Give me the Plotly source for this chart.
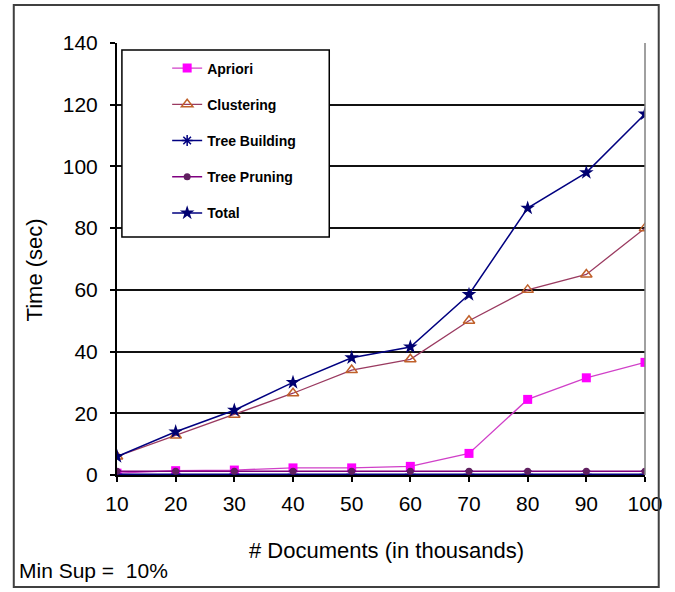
import plotly.graph_objects as go

# Number of documents (thousands)
docs = [10, 20, 30, 40, 50, 60, 70, 80, 90, 100]

# Running time per phase (seconds)
apriori = [0.6, 1.4, 1.6, 2.3, 2.3, 2.8, 7, 24.5, 31.5, 36.5]
clustering = [6, 12.8, 19.5, 26.5, 34, 37.5, 50, 60, 65, 80]
tree_building = [0.2, 0.2, 0.2, 0.2, 0.2, 0.2, 0.2, 0.2, 0.2, 0.2]
tree_pruning = [1.2, 1.2, 1.2, 1.2, 1.2, 1.2, 1.2, 1.2, 1.2, 1.2]
total = [6, 14, 21, 30, 38, 41.5, 58.5, 86.5, 98, 117]

y_ticks = [0, 20, 40, 60, 80, 100, 120, 140]

FONT = "Liberation Sans, Arial, sans-serif"

series = [
    ("Apriori", apriori, dict(color="#D040C8", width=1.3),
     dict(symbol="square", size=9, color="#FF00FF")),
    ("Clustering", clustering, dict(color="#9A3A60", width=1.3),
     dict(symbol="triangle-up-open", size=10, color="#C0602A", line=dict(width=1.5))),
    ("Tree Building", tree_building, dict(color="#000080", width=1.6),
     dict(symbol="asterisk-open", size=9, color="#000080", line=dict(width=1.5))),
    ("Tree Pruning", tree_pruning, dict(color="#800080", width=1.6),
     dict(symbol="circle", size=7, color="#602060")),
    ("Total", total, dict(color="#000080", width=1.5),
     dict(symbol="star", size=11, color="#000070")),
]

fig = go.Figure()
for i, (name, vals, line, marker) in enumerate(series):
    fig.add_trace(go.Scatter(
        x=docs, y=vals, name=name, mode="lines+markers",
        line=line, marker=marker, legendgroup=f"g{i}",
    ))

fig.update_layout(
    width=675, height=592,
    margin=dict(l=117, r=21, t=43, b=117),
    paper_bgcolor="white", plot_bgcolor="white",
    font=dict(family=FONT, size=22, color="black"),
    showlegend=True,
    legend=dict(
        x=0.095, y=0.978, xanchor="left", yanchor="top",
        bgcolor="rgba(0,0,0,0)", borderwidth=0,
        font=dict(family=FONT, size=14, color="black", weight="bold"),
        tracegroupgap=15, itemwidth=30,
    ),
    xaxis=dict(
        range=[10, 100], tickvals=docs, ticktext=[str(d) for d in docs],
        showgrid=False, zeroline=False,
        showline=True, linecolor="black", linewidth=2,
        ticks="outside", ticklen=5, tickwidth=1.5, tickcolor="black",
        ticklabelstandoff=4,
        tickfont=dict(family=FONT, size=21),
    ),
    yaxis=dict(
        range=[0, 140], tickvals=y_ticks, ticktext=[str(v) for v in y_ticks],
        showgrid=True, gridcolor="#111111", gridwidth=2,
        zeroline=False,
        showline=True, linecolor="black", linewidth=2,
        ticks="outside", ticklen=5, tickwidth=1.5, tickcolor="black",
        ticklabelstandoff=8,
        tickfont=dict(family=FONT, size=21),
    ),
    shapes=[
        # plot-area right edge
        dict(type="line", xref="paper", yref="paper", x0=1, x1=1, y0=0, y1=1,
             line=dict(color="#808080", width=1.5)),
        # legend box
        dict(type="rect", xref="paper", yref="paper", layer="above",
             x0=0.0093, x1=0.402, y0=0.551, y1=0.984,
             fillcolor="white", line=dict(color="black", width=1.5)),
        # chart-area border
        dict(type="rect", xref="paper", yref="paper",
             x0=-0.1955, x1=1.026, y0=-0.259, y1=1.088,
             line=dict(color="#404040", width=2)),
    ],
    annotations=[
        dict(text="Time (sec)", xref="paper", yref="paper", x=-0.156, y=0.475,
             textangle=-90, showarrow=False, xanchor="center", yanchor="middle",
             font=dict(family=FONT, size=22)),
        dict(text="# Documents (in thousands)", xref="paper", yref="paper",
             x=0.51, y=-0.174, showarrow=False, xanchor="center", yanchor="middle",
             font=dict(family=FONT, size=22)),
        dict(text="Min Sup =  10%", xref="paper", yref="paper",
             x=-0.19, y=-0.222, showarrow=False, xanchor="left", yanchor="middle",
             font=dict(family=FONT, size=21)),
    ],
)

fig.write_html("out.html")
